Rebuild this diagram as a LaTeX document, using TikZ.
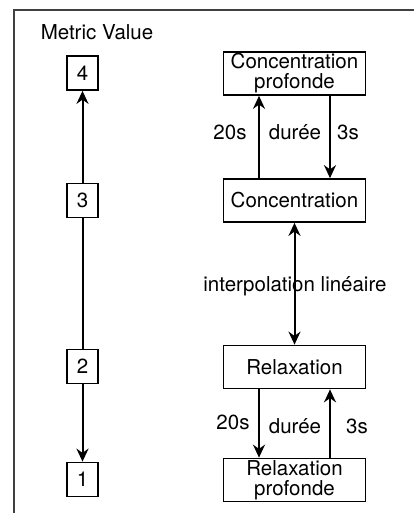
\documentclass[tikz,border=0pt]{standalone}
\usepackage{fontspec}
\setmainfont{TeX Gyre Heros}
\usetikzlibrary{arrows.meta}
\begin{document}
\begin{tikzpicture}[x=1pt,y=-1pt,
  font=\fontsize{20.5}{20}\selectfont,
  numbox/.style={draw, line width=1.7pt, minimum width=31pt, minimum height=34pt, inner sep=0pt},
  statebox/.style={draw, line width=1.7pt, minimum width=142pt, minimum height=43pt, inner sep=0pt, align=center},
  arr/.style={line width=2pt, -{Stealth[length=13pt,width=12pt]}},
  darr/.style={line width=2pt, {Stealth[length=13pt,width=12pt]}-{Stealth[length=13pt,width=12pt]}},
  ln/.style={line width=2pt},
  lbl/.style={inner sep=0pt}]
\useasboundingbox (0,0) rectangle (414,513);
\draw[line width=1.8pt, draw=black!75] (14,513) -- (14,10) -- (414,10);

\node[lbl] (title) at (97,32) {Metric Value};

\node[numbox] (n4) at (82.5,73) {4};
\node[numbox] (n3) at (82.5,200.5) {3};
\node[numbox] (n2) at (82.5,366.5) {2};
\node[numbox] (n1) at (82.5,479.5) {1};

\draw[arr] (n3) -- (n4);
\draw[ln] (n2) -- (n3);
\draw[arr] (n2) -- (n1);

\node[statebox] (cp) at (294.5,73.5) {\raisebox{-2pt}{Concentration}\\\raisebox{-2pt}{profonde}};
\node[statebox] (c) at (294.5,200.5) {Concentration};
\node[statebox] (r) at (294.5,367) {Relaxation};
\node[statebox] (rp) at (294.5,480) {\raisebox{-2pt}{Relaxation}\\\raisebox{-2pt}{profonde}};

\draw[arr] ([xshift=-35.5pt]c.north) -- ([xshift=-35.5pt]cp.south);
\draw[arr] ([xshift=35.5pt]cp.south) -- ([xshift=35.5pt]c.north);
\node[lbl] (t20a) at (230,132) {20s};
\node[lbl] (da) at (295,132) {durée};
\node[lbl] (t3a) at (348,132) {3s};

\draw[darr] (c) -- (r);
\node[lbl] (interp) at (295,286) {interpolation linéaire};

\draw[arr] ([xshift=-35.5pt]r.south) -- ([xshift=-35.5pt]rp.north);
\draw[arr] ([xshift=35.5pt]rp.north) -- ([xshift=35.5pt]r.south);
\node[lbl] (t20b) at (233,422) {20s};
\node[lbl] (db) at (295,426) {durée};
\node[lbl] (t3b) at (357,426) {3s};
\end{tikzpicture}
\end{document}
